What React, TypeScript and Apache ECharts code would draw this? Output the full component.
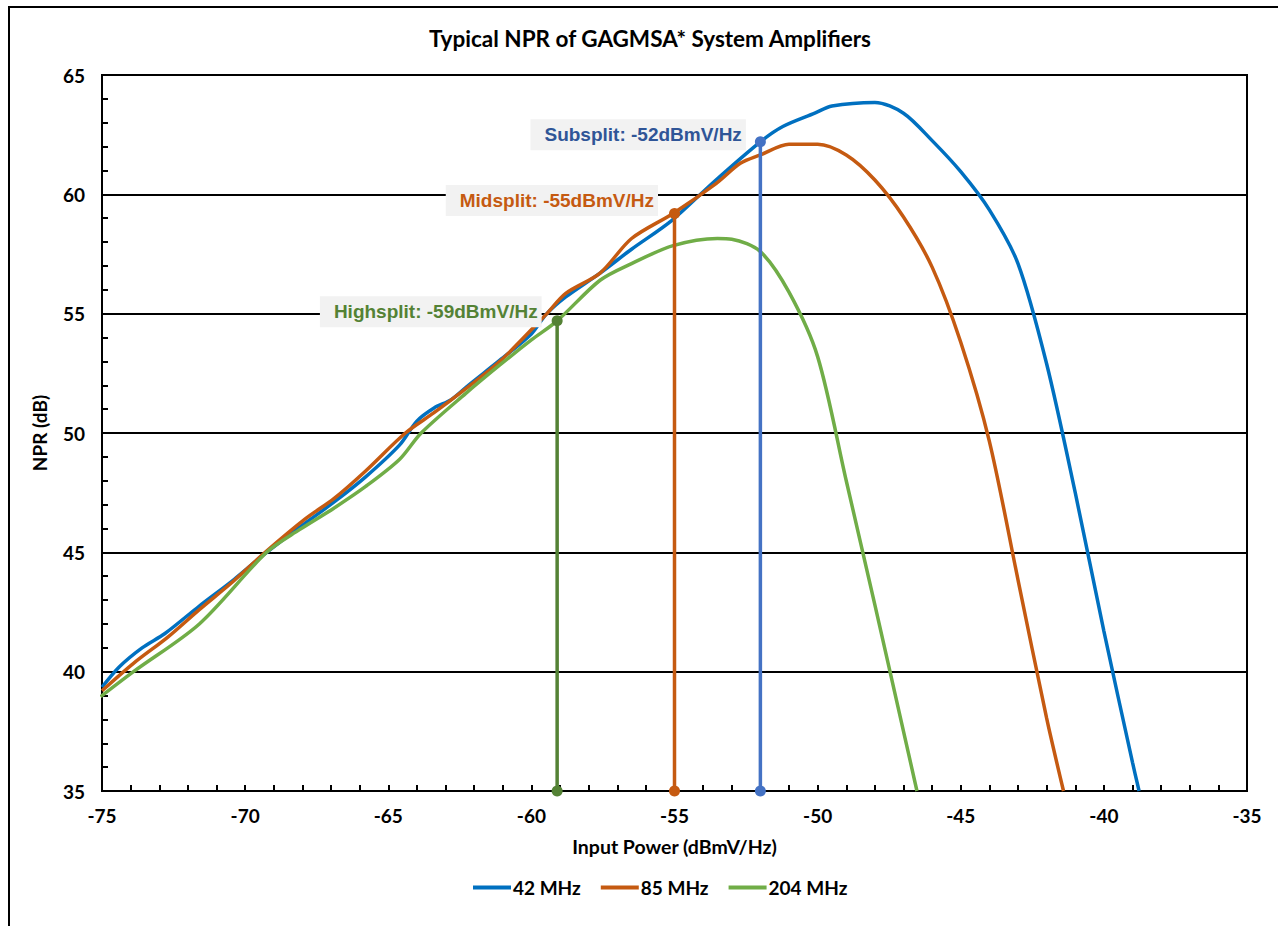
import React, { useEffect, useRef } from "react";
import * as echarts from "echarts";

// ---- Data ----
const TITLE = "Typical NPR of GAGMSA* System Amplifiers";
const X_NAME = "Input Power (dBmV/Hz)";
const Y_NAME = "NPR (dB)";

const SERIES_NAMES = ["42 MHz", "85 MHz", "204 MHz"];

const mhz42X = [-75.0, -74.4, -73.6, -72.8, -71.6, -70.4, -69.3, -68.1, -66.9, -65.8, -64.6, -64.0, -63.4, -62.8, -62.2, -61.1, -60.0, -59.5, -58.8, -57.6, -56.5, -55.1, -53.6, -52.0, -51.2, -50.1, -49.5, -48.0, -47.0, -46.0, -45.0, -44.0, -43.0, -42.0, -41.0, -40.0, -39.0, -38.77];
const mhz42Y = [39.35, 40.2, 41.0, 41.6, 42.75, 43.85, 44.95, 46.05, 47.1, 48.15, 49.5, 50.5, 51.05, 51.4, 52.0, 53.05, 54.15, 54.95, 55.7, 56.7, 57.7, 58.9, 60.55, 62.2, 62.85, 63.4, 63.7, 63.85, 63.4, 62.25, 60.95, 59.35, 57.1, 52.9, 47.5, 41.7, 36.2, 35.0];

const mhz85X = [-75.0, -73.9, -72.7, -71.6, -70.4, -69.3, -67.9, -66.9, -65.8, -64.4, -63.4, -62.3, -61.1, -59.5, -58.8, -57.6, -56.5, -55.05, -53.55, -52.7, -52.0, -51.0, -50.0, -49.0, -48.0, -47.0, -46.0, -45.0, -44.0, -43.0, -42.0, -41.41];
const mhz85Y = [39.2, 40.35, 41.45, 42.6, 43.8, 45.0, 46.4, 47.25, 48.4, 50.0, 50.85, 51.85, 53.0, 54.95, 55.85, 56.7, 58.15, 59.2, 60.45, 61.3, 61.65, 62.1, 62.1, 61.65, 60.6, 59.05, 56.95, 53.8, 49.65, 43.85, 38.05, 35.0];

const mhz204X = [-75.05, -73.9, -71.6, -69.25, -68.1, -66.9, -65.8, -64.6, -63.85, -62.3, -61.1, -60.0, -59.1, -57.6, -56.5, -55.05, -53.5, -53.0, -52.0, -51.0, -50.0, -49.0, -48.0, -47.0, -46.53];
const mhz204Y = [38.95, 40.0, 42.0, 45.0, 45.95, 46.85, 47.75, 48.9, 50.0, 51.65, 52.85, 53.9, 54.7, 56.4, 57.1, 57.85, 58.15, 58.12, 57.6, 55.9, 53.2, 48.0, 42.8, 37.5, 35.0];

const markerNames = ["Subsplit", "Midsplit", "Highsplit"];
const markerLabels = ["Subsplit: -52dBmV/Hz", "Midsplit: -55dBmV/Hz", "Highsplit: -59dBmV/Hz"];
const markerX = [-52, -55, -59.1];
const markerY = [62.2, 59.2, 54.7];

const X_MIN = -75;
const X_MAX = -35;
const X_STEP = 5;
const Y_MIN = 35;
const Y_MAX = 65;
const Y_STEP = 5;

// ---- Styles ----
const seriesColors = ["#0070C0", "#C55A11", "#70AD47"];
const markerLineColors = ["#4472C4", "#C55A11", "#548235"];
const markerTextColors = ["#2F5597", "#C55A11", "#548235"];
const markerLabelOffsets = [
  { distance: 9, dy: -7 },
  { distance: 11, dy: -13 },
  { distance: 10, dy: -9 },
];

const FONT = "Lato, 'Open Sans', sans-serif";
const LABEL_FONT = "'Liberation Sans', Arial, sans-serif";

function zip(xs: number[], ys: number[]) {
  return xs.map((x, i) => [x, ys[i]]);
}

export default function App() {
  const ref = useRef<HTMLDivElement>(null);

  useEffect(() => {
    if (!ref.current) return;
    const chart = echarts.init(ref.current, null, { renderer: "svg" });

    const curveData = [zip(mhz42X, mhz42Y), zip(mhz85X, mhz85Y), zip(mhz204X, mhz204Y)];

    const curveSeries = SERIES_NAMES.map((name, i) => ({
      name,
      type: "line",
      data: curveData[i],
      smooth: 0.3,
      showSymbol: false,
      symbol: "none",
      lineStyle: { color: seriesColors[i], width: 3.5 },
      itemStyle: { color: seriesColors[i] },
      z: 3,
    }));

    const markerSeries = markerNames.map((name, i) => ({
      name,
      type: "line",
      data: [
        {
          value: [markerX[i], markerY[i]],
          label: {
            show: true,
            position: "left",
            distance: markerLabelOffsets[i].distance,
            offset: [0, markerLabelOffsets[i].dy],
            formatter: markerLabels[i],
            color: markerTextColors[i],
            fontFamily: LABEL_FONT,
            fontWeight: "bold",
            fontSize: 19,
            backgroundColor: "#F2F2F2",
            padding: [6, 4, 6, 14],
          },
        },
        { value: [markerX[i], Y_MIN], label: { show: false } },
      ],
      symbol: "circle",
      symbolSize: 11,
      lineStyle: { color: markerLineColors[i], width: 3.5 },
      itemStyle: { color: markerLineColors[i] },
      clip: false,
      z: 5,
    }));

    chart.setOption({
      animation: false,
      backgroundColor: "#FFFFFF",
      title: {
        text: TITLE,
        left: 645,
        textAlign: "center",
        top: 22,
        textStyle: { fontFamily: FONT, fontWeight: "bold", fontSize: 22.5, color: "#000" },
      },
      graphic: [
        {
          type: "rect",
          shape: { x: 9, y: 7, width: 1400, height: 1000 },
          style: { fill: "none", stroke: "#000", lineWidth: 2 },
          silent: true,
        },
      ],
      legend: {
        data: SERIES_NAMES,
        top: 873,
        left: 468,
        icon: "rect",
        itemWidth: 38,
        itemHeight: 4,
        itemGap: 20,
        textStyle: { fontFamily: FONT, fontWeight: "bold", fontSize: 19, color: "#000", padding: [0, 0, 0, -3] },
      },
      grid: {
        left: 102,
        top: 75,
        right: 31,
        bottom: 135,
        show: true,
        borderColor: "#000",
        borderWidth: 2,
        containLabel: false,
      },
      xAxis: {
        type: "value",
        min: X_MIN,
        max: X_MAX,
        interval: X_STEP,
        name: X_NAME,
        nameLocation: "middle",
        nameGap: 45,
        nameTextStyle: { fontFamily: FONT, fontWeight: "bold", fontSize: 19.5, color: "#000" },
        axisLine: { show: true, lineStyle: { color: "#000", width: 2 } },
        axisTick: { show: true, inside: true, length: 6, lineStyle: { color: "#000", width: 2 } },
        minorTick: { show: true, splitNumber: 5, length: 6, lineStyle: { color: "#000", width: 2 } },
        axisLabel: { fontFamily: FONT, fontWeight: "bold", fontSize: 19, color: "#000", margin: 15 },
        splitLine: { show: false },
      },
      yAxis: {
        type: "value",
        min: Y_MIN,
        max: Y_MAX,
        interval: Y_STEP,
        name: Y_NAME,
        nameLocation: "middle",
        nameGap: 53,
        nameTextStyle: { fontFamily: FONT, fontWeight: "bold", fontSize: 19, color: "#000" },
        axisLine: { show: true, lineStyle: { color: "#000", width: 2 } },
        axisTick: { show: true, inside: true, length: 6, lineStyle: { color: "#000", width: 2 } },
        minorTick: { show: true, splitNumber: 5, length: 6, lineStyle: { color: "#000", width: 2 } },
        axisLabel: { fontFamily: FONT, fontWeight: "bold", fontSize: 19, color: "#000", margin: 17 },
        splitLine: { show: true, lineStyle: { color: "#000", width: 2 } },
      },
      series: [...curveSeries, ...markerSeries],
    });

    return () => chart.dispose();
  }, []);

  return (
    <div
      ref={ref}
      style={{ position: "fixed", left: 0, top: 0, width: 1278, height: 926, background: "#fff" }}
    />
  );
}
